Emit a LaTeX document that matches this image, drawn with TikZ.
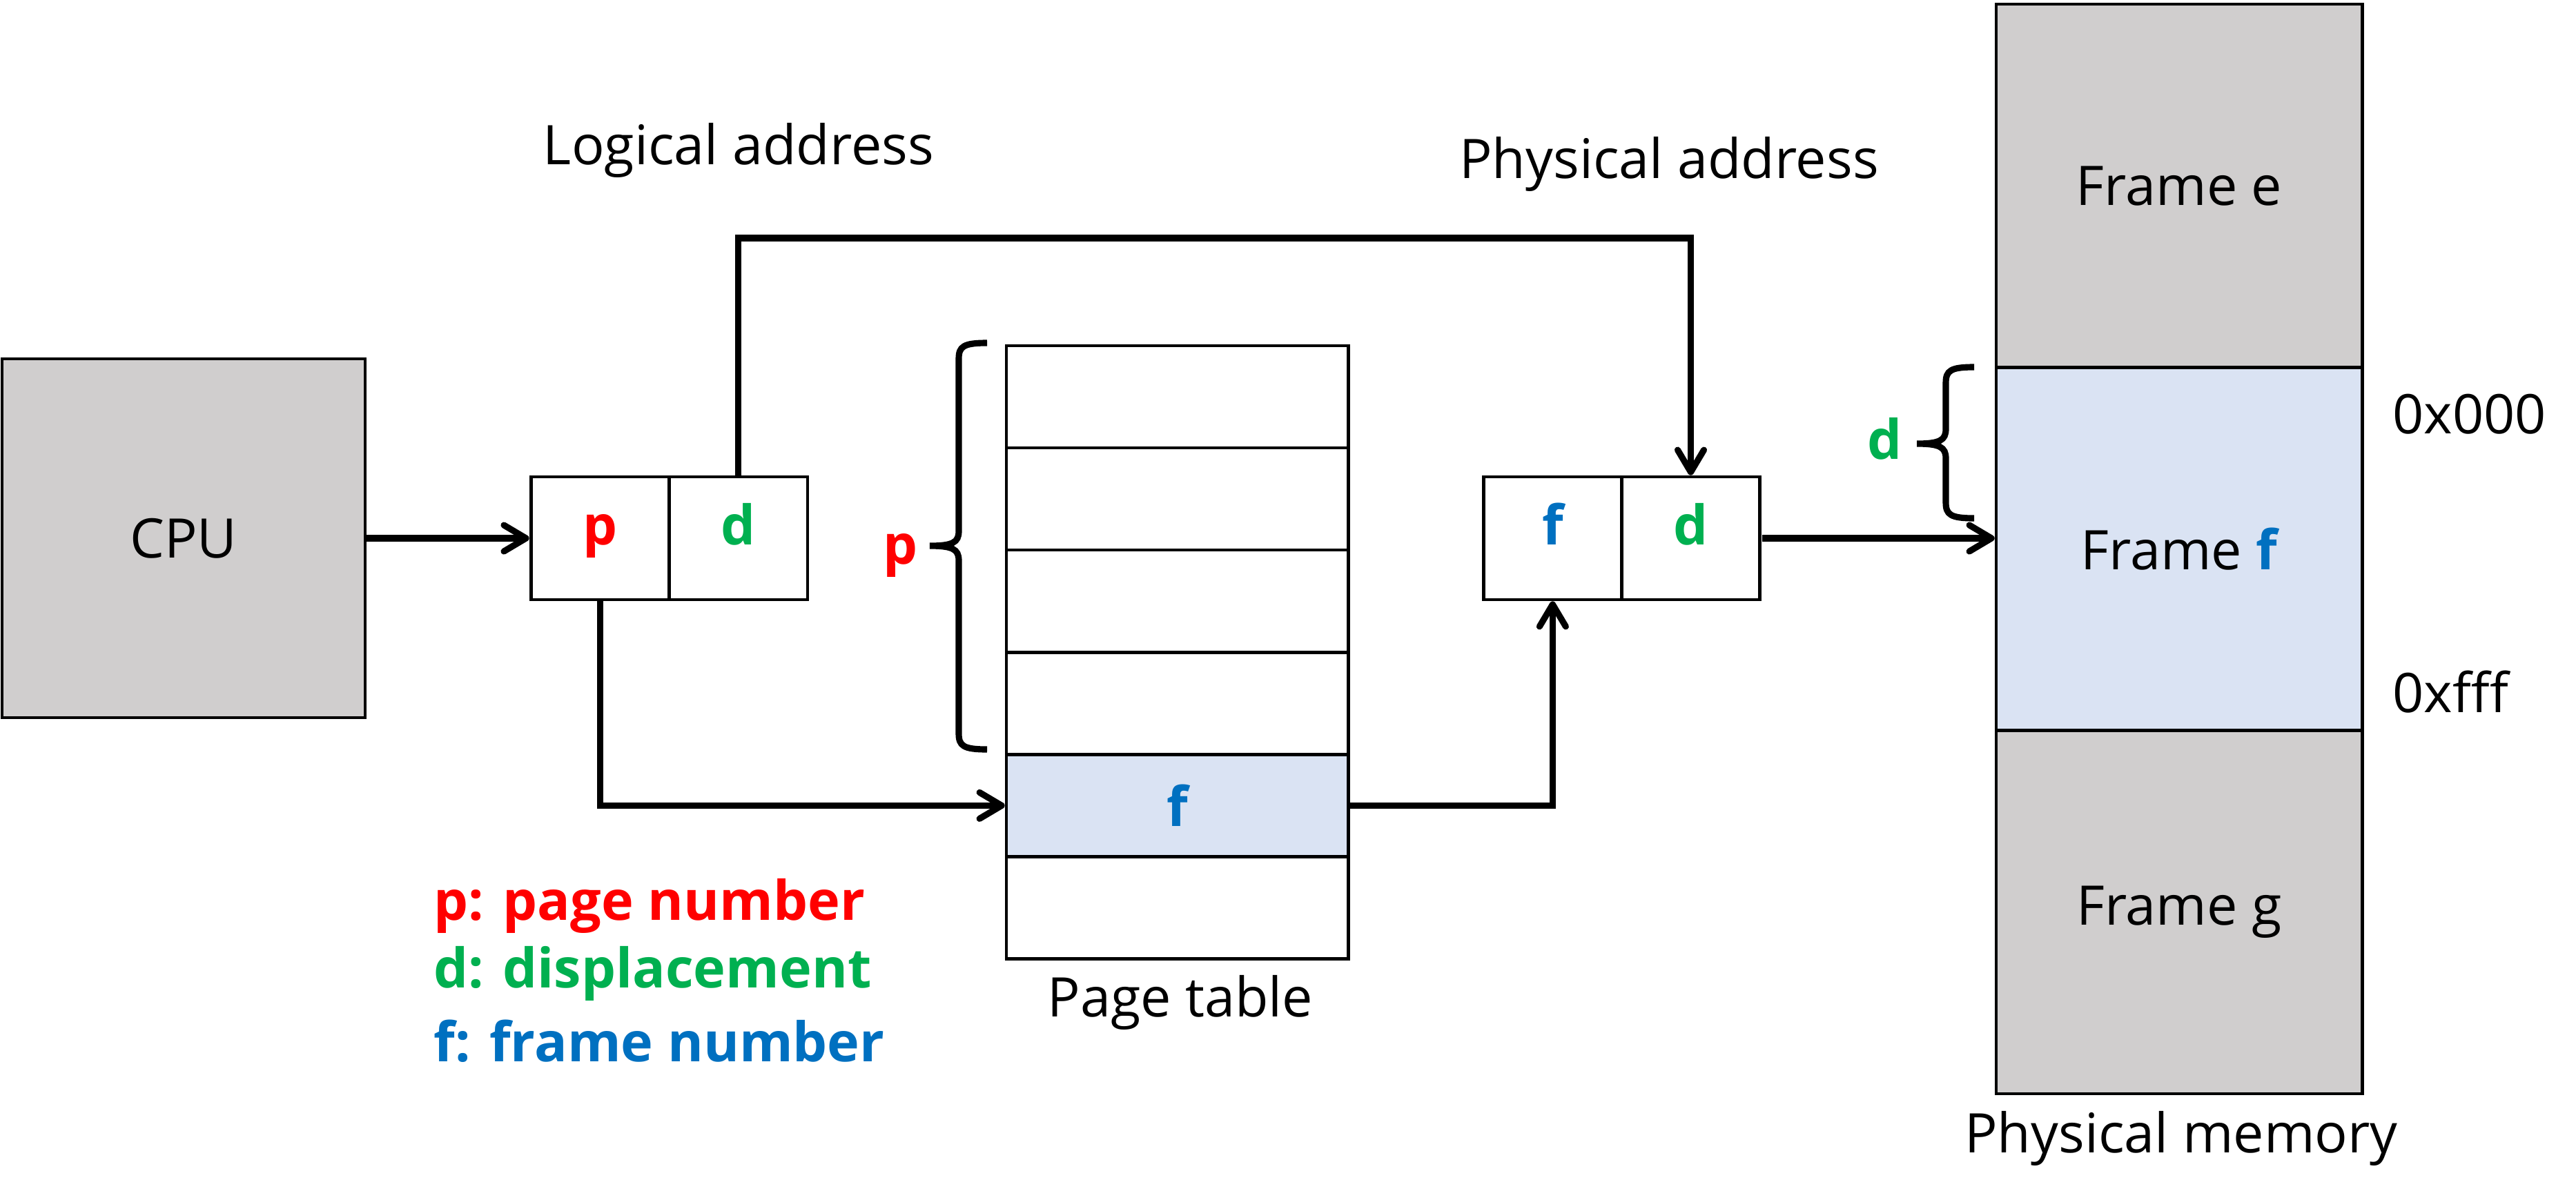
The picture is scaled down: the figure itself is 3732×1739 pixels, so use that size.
\documentclass[tikz,border=0pt]{standalone}
\usepackage{fontspec}
\setmainfont{Open Sans}
\usepackage{xcolor}
\usetikzlibrary{matrix, positioning, arrows.meta}
\definecolor{pRed}{HTML}{FF0000}
\definecolor{dGreen}{HTML}{00B050}
\definecolor{fBlue}{HTML}{0070C0}
\definecolor{boxGray}{HTML}{D0CECE}
\definecolor{boxBlue}{HTML}{DAE3F3}
\newcommand{\bigfont}{\fontsize{22.5}{27}\selectfont}

\begin{document}
\begin{tikzpicture}
[x=0.01cm, y=-0.01cm, font=\bigfont,
cell/.style={rectangle, draw=black, line width=1.3pt, inner sep=0mm, anchor=center, font=\bigfont},
space/.style={matrix of nodes, row sep=-1.3pt, column sep=-1.3pt, inner sep=0pt, nodes in empty cells},
addr/.style={space, nodes={cell, minimum width=2cm, minimum height=1.78cm, text height=0.75em, text depth=0.22em, font=\bigfont\bfseries}},
link/.style={line width=2.6pt, -{Straight Barb[length=3.2mm, width=3.8mm, round]}},
curly/.style={line width=2.6pt},
legend/.style={anchor=west, inner sep=0pt, font=\bigfont\bfseries},
ampersand replacement = \&]

\useasboundingbox (0,0) rectangle (3732,1739);

\node (cpu) [cell, fill=boxGray, minimum width=5.26cm, minimum height=5.2cm] at (266,780) {CPU};

\matrix (laddr) [addr, right=2.35cm of cpu]
{
|[text=pRed]| p \& |[text=dGreen]| d \\
};
\matrix (paddr) [addr, right=9.73cm of laddr]
{
|[text=fBlue]| f \& |[text=dGreen]| d \\
};

\matrix (ptable) [space, anchor=north west,
nodes={cell, minimum width=4.95cm, minimum height=1.48cm}
] at (1455,498)
{
\\
\\
\\
\\
|[fill=boxBlue, text=fBlue, font=\bigfont\bfseries]| f \\
\\
};

\matrix (pmem) [space, anchor=north west,
nodes={cell, minimum width=5.3cm, minimum height=5.26cm, fill=boxGray}
] at (2889,3)
{
Frame e \\
|[fill=boxBlue]| Frame {\bfseries\color{fBlue}f} \\
Frame g \\
};

% labels
\node (laddrlbl) at (1070,218) {Logical address};
\node (paddrlbl) at (2418,238) {Physical address};
\node (ptablelbl) at (1710,1453) {Page table};
\node (pmemlbl) at (3160,1650) {Physical memory};
\node (lo) [anchor=west, inner sep=0pt] at (3466,600) {0x000};
\node (hi) [anchor=west, inner sep=0pt] at (3466,1003) {0xfff};

\node (legp) [legend, text=pRed] at (628,1313) {p: page number};
\node (legd) [legend, text=dGreen] at (628,1411) {d: displacement};
\node (legf) [legend, text=fBlue] at (628,1509) {f: frame number};

% braces
\draw[curly] (1430,497) .. controls (1396,497) and (1389,502) .. (1389,520) -- (1389,770)
  .. controls (1389,786) and (1380,791) .. (1347,791)
  .. controls (1380,791) and (1389,796) .. (1389,812) -- (1389,1063)
  .. controls (1389,1081) and (1396,1086) .. (1430,1086);
\node (pmark) [inner sep=0pt, text=pRed, font=\bigfont\bfseries] at (1305,805) {p};

\draw[curly] (2860,532) .. controls (2826,532) and (2819,537) .. (2819,555) -- (2819,622)
  .. controls (2819,638) and (2810,643) .. (2777,643)
  .. controls (2810,643) and (2819,648) .. (2819,664) -- (2819,728)
  .. controls (2819,746) and (2826,751) .. (2860,751);
\node (dmark) [inner sep=0pt, text=dGreen, font=\bigfont\bfseries] at (2731,636) {d};

% connectors
\draw[link] (cpu) -- (laddr);
\draw[link] (laddr-1-2.north) -- (laddr-1-2.north |- 0,345) -| (paddr-1-2.north);
\draw[link] (laddr-1-1.south) |- (ptable-5-1.west);
\draw[link] (ptable-5-1.east) -| (paddr-1-1.south);
\draw[link] (paddr.east) -- (paddr.east -| pmem-2-1.west);
\end{tikzpicture}
\end{document}
